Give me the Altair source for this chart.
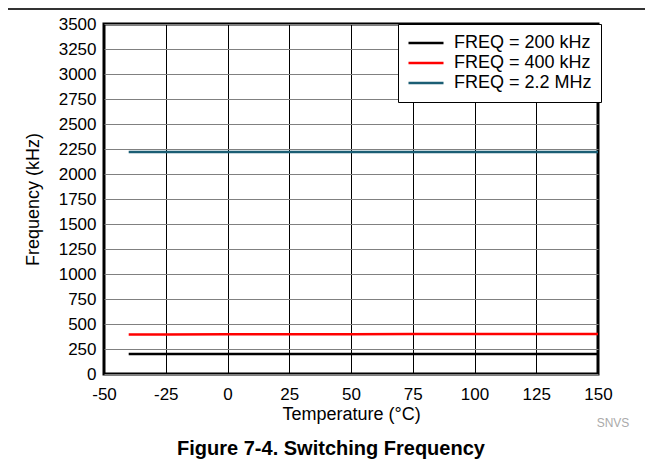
import altair as alt
import pandas as pd

temps = [-40, -25, 0, 25, 50, 75, 100, 125, 150]
f200 = [199, 199, 200, 200, 200, 200, 201, 201, 201]
f400 = [396, 396, 397, 398, 398, 399, 399, 400, 400]
f2200 = [2220, 2220, 2220, 2220, 2220, 2220, 2220, 2220, 2220]
series = ["FREQ = 200 kHz", "FREQ = 400 kHz", "FREQ = 2.2 MHz"]
colors = ["#000000", "#ff0000", "#1b5e74"]
x_ticks = [-50, -25, 0, 25, 50, 75, 100, 125, 150]
y_ticks = list(range(0, 3501, 250))

rows = []
for name, vals in zip(series, [f200, f400, f2200]):
    for t, v in zip(temps, vals):
        rows.append({"temp": t, "freq": v, "series": name})
df = pd.DataFrame(rows)

FONT = "Liberation Sans"
W, H = 494, 350

lines = alt.Chart(df).mark_line(strokeWidth=2.5).encode(
    x=alt.X("temp:Q", scale=alt.Scale(domain=[-50, 150], nice=False),
            axis=alt.Axis(values=x_ticks, title="Temperature (°C)", grid=True,
                          gridColor="#000000", gridOpacity=1, gridWidth=1,
                          ticks=False, domain=False, labelPadding=12, labelFlush=False,
                          labelExpr="datum.value + ''",
                          labelFontSize=17, titleFontSize=18, titleFontWeight="normal",
                          titlePadding=3, labelFont=FONT, titleFont=FONT,
                          labelColor="#000", titleColor="#000")),
    y=alt.Y("freq:Q", scale=alt.Scale(domain=[0, 3500], nice=False),
            axis=alt.Axis(values=y_ticks, title="Frequency (kHz)", grid=True,
                          gridColor="#808080", gridOpacity=1, gridWidth=1,
                          ticks=False, domain=False, labelPadding=8, labelFlush=False,
                          labelExpr="datum.value + ''",
                          labelFontSize=17, titleFontSize=18, titleFontWeight="normal",
                          titlePadding=16, labelFont=FONT, titleFont=FONT,
                          labelColor="#000", titleColor="#000")),
    color=alt.Color("series:N", scale=alt.Scale(domain=series, range=colors),
                    legend=alt.Legend(title=None, orient="none", legendX=294, legendY=0,
                                      padding=9, strokeColor="#000000", fillColor="#ffffff",
                                      symbolType="stroke", symbolSize=1225,
                                      symbolStrokeWidth=2.5, clipHeight=20, rowPadding=0,
                                      labelOffset=9, labelFontSize=18, labelFont=FONT,
                                      labelColor="#000", cornerRadius=0)),
)

snvs = alt.Chart(pd.DataFrame({"t": ["SNVS"]})).mark_text(
    font=FONT, fontSize=12, color="#aaaaaa", align="center", baseline="middle"
).encode(text="t:N", x=alt.value(509), y=alt.value(399))

caption = alt.Chart(pd.DataFrame({"t": ["Figure 7-4. Switching Frequency"]})).mark_text(
    font=FONT, fontSize=20, fontWeight="bold", color="#000000", align="center", baseline="middle"
).encode(text="t:N", x=alt.value(227), y=alt.value(425))

topline = alt.Chart(pd.DataFrame({"a": [0]})).mark_rule(color="#333333", strokeWidth=2).encode(
    x=alt.value(-96), x2=alt.value(549), y=alt.value(-15)
)

chart = alt.layer(lines, snvs, caption, topline).properties(
    width=W, height=H,
    autosize=alt.AutoSizeParams(type="none"),
    padding={"left": 96, "top": 16, "right": 47, "bottom": 86},
).configure_view(stroke="#000000", strokeWidth=3)

chart.save("out.html", embed_options={"renderer": "svg", "actions": False})
